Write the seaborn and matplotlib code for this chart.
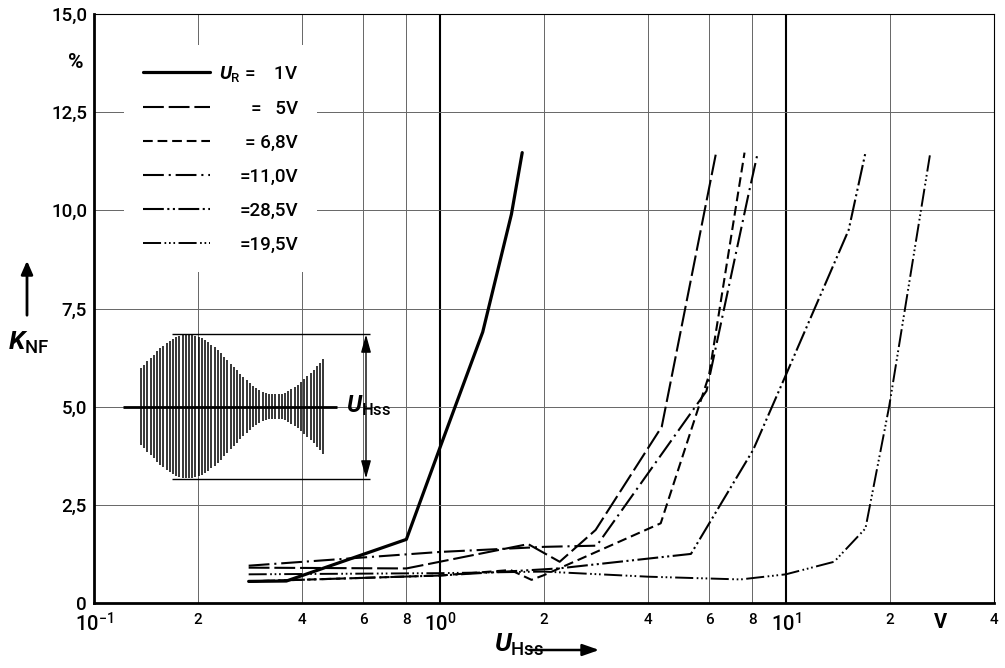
import numpy as np
import matplotlib
matplotlib.use('Agg')
import matplotlib.pyplot as plt
import seaborn as sns
from matplotlib.ticker import NullLocator

# K_NF (%) over U_Hss (V), one pair of lists per U_R
u_1v = [0.28, 0.36, 0.8, 1.0, 1.33, 1.61, 1.73]
k_1v = [0.55, 0.56, 1.62, 3.95, 6.9, 9.9, 11.47]

u_5v = [0.28, 0.8, 1.8, 2.22, 2.82, 4.38, 6.29]
k_5v = [0.9, 0.88, 1.5, 1.05, 1.86, 4.49, 11.47]

u_68v = [0.28, 1.0, 1.6, 1.84, 2.0, 4.35, 6.0, 7.6]
k_68v = [0.55, 0.7, 0.84, 0.59, 0.71, 2.03, 5.8, 11.47]

u_11v = [0.28, 1.0, 2.0, 2.84, 5.9, 7.8, 8.3]
k_11v = [0.95, 1.3, 1.43, 1.46, 5.4, 10.4, 11.47]

u_285v = [0.28, 1.0, 2.2, 5.32, 8.05, 10.0, 15.2, 17.0]
k_285v = [0.55, 0.7, 0.88, 1.25, 3.9, 5.8, 9.5, 11.47]

u_195v = [0.28, 1.0, 2.0, 4.0, 7.4, 10.0, 13.8, 17.0, 19.9, 26.1]
k_195v = [0.73, 0.76, 0.8, 0.67, 0.6, 0.73, 1.05, 1.9, 5.0, 11.4]

legend_labels = [r'$\mathit{U}_{\mathrm{R}}$ =    1V', '=   5V', '= 6,8V',
                 '=11,0V', '=28,5V', '=19,5V']

x_ticks = [0.1, 0.2, 0.4, 0.6, 0.8, 1, 2, 4, 6, 8, 10, 20, 28, 40]
x_ticklabels = [r'$10^{-1}$', '2', '4', '6', '8', r'$10^{0}$', '2', '4', '6', '8',
                r'$10^{1}$', '2', 'V', '4']
y_ticks = [0, 2.5, 5, 7.5, 10, 12.5, 15]
y_ticklabels = ['0', '2,5', '5,0', '7,5', '10,0', '12,5', '15,0']

sns.set_theme(style='white')
plt.rcParams['font.family'] = ['Roboto', 'DejaVu Sans']
plt.rcParams['font.weight'] = 'medium'
plt.rcParams['mathtext.fontset'] = 'custom'
plt.rcParams['mathtext.rm'] = 'Roboto:medium'
plt.rcParams['mathtext.it'] = 'Roboto:italic:bold'
plt.rcParams['mathtext.bf'] = 'Roboto:bold'
plt.rcParams['text.color'] = 'black'
plt.rcParams['xtick.color'] = 'black'
plt.rcParams['ytick.color'] = 'black'
plt.rcParams['lines.scale_dashes'] = False

W, H = 1005, 668
fig = plt.figure(figsize=(W / 100, H / 100), dpi=100)
ax = fig.add_axes([94 / W, 65 / H, 900 / W, 589 / H])
ax.set_xscale('log')

# grid drawn by hand: thin lines at 2,4,6,8 and heavy decade lines
for xv in [0.2, 0.4, 0.6, 0.8, 2, 4, 6, 8, 20]:
    ax.axvline(xv, color='0.4', lw=0.7, zorder=1)
for xv in [1, 10]:
    ax.axvline(xv, color='black', lw=1.5, zorder=1)
for yv in [2.5, 5, 7.5, 10, 12.5]:
    ax.axhline(yv, color='0.4', lw=0.7, zorder=1)

series = [
    (u_1v, k_1v, '-', 2.3),
    (u_5v, k_5v, (0, (15, 3.5)), 1.5),
    (u_68v, k_68v, (0, (7, 3.5)), 1.5),
    (u_11v, k_11v, (0, (15, 3.5, 1.5, 3.5)), 1.5),
    (u_285v, k_285v, (0, (15, 2.5, 1.5, 2.5, 1.5, 2.5)), 1.5),
    (u_195v, k_195v, (0, (13, 2.5, 1.2, 2, 1.2, 2, 1.2, 2.5)), 1.4),
]
handles = []
for u, k, ls, lw in series:
    sns.lineplot(x=u, y=k, ax=ax, color='black', linestyle=ls, linewidth=lw,
                 estimator=None, sort=False, zorder=3)
    handles.append(ax.lines[-1])

ax.set_xlim(0.1, 40)
ax.set_ylim(0, 15)
ax.xaxis.set_minor_locator(NullLocator())
ax.set_xticks(x_ticks)
ax.set_xticklabels(x_ticklabels)
ax.set_yticks(y_ticks)
ax.set_yticklabels(y_ticklabels, fontsize=13.5)
ax.tick_params(length=0)
ax.tick_params(axis='x', pad=7)
ax.tick_params(axis='y', pad=5)
for lab, val in zip(ax.get_xticklabels(), x_ticks):
    lab.set_fontsize(14.5 if val in (0.1, 1, 10, 28) else 11)
    if val == 28:
        lab.set_fontweight('bold')

for side in ['left', 'bottom']:
    ax.spines[side].set_linewidth(2.0)
for side in ['top', 'right']:
    ax.spines[side].set_linewidth(0.8)
for sp in ax.spines.values():
    sp.set_color('black')

ax.text(-0.02, 0.918, '%', transform=ax.transAxes, ha='center', va='center',
        fontsize=15, fontweight='bold')

leg = ax.legend(handles, legend_labels, loc='upper left',
                bbox_to_anchor=(0.023, 0.963), fontsize=13.5, frameon=True,
                facecolor='white', edgecolor='none', framealpha=1,
                handlelength=3.6, handletextpad=0.45, labelspacing=0.85,
                borderpad=1.0)
leg.set_zorder(4)
fig.canvas.draw()
widths = [t.get_window_extent().width for t in leg.get_texts()]
wmax = max(widths)
for t, w in zip(leg.get_texts(), widths):
    t.set_position((wmax - w, 0))

# axis labels with arrows, as in the printed sheet
fig.text(8 / W, 1 - 350 / H, r'$\mathit{K}_{\mathrm{NF}}$', fontsize=19,
         ha='left', va='baseline')
fig.add_artist(matplotlib.patches.FancyArrowPatch(
    (27 / W, 1 - 318 / H), (27 / W, 1 - 258 / H), transform=fig.transFigure,
    arrowstyle='-|>,head_length=8,head_width=3.5', lw=2, color='black'))
fig.text(494 / W, 1 - 652 / H, r'$\mathit{U}_{\mathrm{Hss}}$', fontsize=19,
         ha='left', va='baseline')
fig.add_artist(matplotlib.patches.FancyArrowPatch(
    (527 / W, 1 - 650 / H), (602 / W, 1 - 650 / H), transform=fig.transFigure,
    arrowstyle='-|>,head_length=10,head_width=3.5', lw=1.8, color='black'))

# inset sketch of the modulated signal (image pixel units)
ins = fig.add_axes([117 / W, 1 - 490 / H, 280 / W, 160 / H])
ins.set_xlim(117, 397)
ins.set_ylim(490, 330)
ins.set_facecolor('white')
ins.axis('off')
ins.patch.set_visible(True)
ins.set_zorder(4)
bar_x = np.arange(141, 326, 3.2)
env = 42 + 30 * np.cos(2 * np.pi * (bar_x - 188) / 174)
ins.vlines(bar_x, 406.5 - env, 406.5 + env, color='black', lw=1.1)
ins.hlines(406.5, 123, 337, color='black', lw=2)
ins.hlines([334.5, 478.5], 172, 370, color='black', lw=1)
ins.annotate('', xy=(366, 334.5), xytext=(366, 406.5),
             arrowprops=dict(arrowstyle='-|>,head_length=0.9,head_width=0.25',
                             lw=1, color='black', shrinkA=0, shrinkB=0))
ins.annotate('', xy=(366, 478.5), xytext=(366, 406.5),
             arrowprops=dict(arrowstyle='-|>,head_length=0.9,head_width=0.25',
                             lw=1, color='black', shrinkA=0, shrinkB=0))
ins.text(346, 412, r'$\mathit{U}_{\mathrm{Hss}}$', fontsize=17, ha='left',
         va='baseline')

fig.savefig('out.png', dpi=100)
